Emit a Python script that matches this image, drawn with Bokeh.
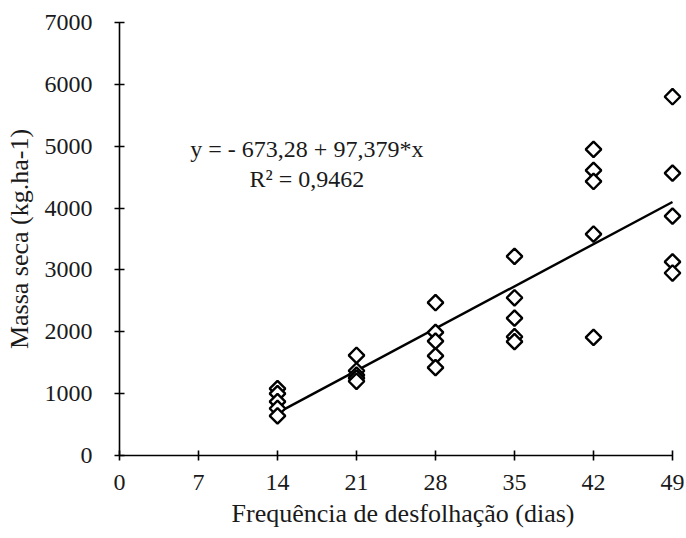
import numpy as np
from bokeh.plotting import figure
from bokeh.models import Range1d, FixedTicker, Label
from bokeh.embed import file_html
from bokeh.resources import INLINE

# ---- data ----
days = [14, 14, 14, 14, 14,
        21, 21, 21, 21, 21,
        28, 28, 28, 28, 28,
        35, 35, 35, 35, 35,
        42, 42, 42, 42, 42,
        49, 49, 49, 49, 49]
massa = [1080, 1000, 870, 760, 640,
         1620, 1370, 1300, 1250, 1200,
         2470, 1990, 1850, 1610, 1420,
         3220, 2550, 2220, 1920, 1840,
         4950, 4610, 4430, 3580, 1910,
         5800, 4565, 3870, 3130, 2950]
x_ticks = [0, 7, 14, 21, 28, 35, 42, 49]
y_ticks = [0, 1000, 2000, 3000, 4000, 5000, 6000, 7000]
intercept = -673.28
slope = 97.379
eq_text = "y = - 673,28 + 97,379*x"
r2_text = "R\u00b2 = 0,9462"
fit_x = [14, 49]

FONT = "Liberation Serif"
TXT = "#1a1a1a"

p = figure(width=686, height=538, output_backend="svg", toolbar_location=None,
           x_range=Range1d(0, 50.24), y_range=Range1d(0, 7000),
           min_border_left=119, min_border_right=0, min_border_top=22, min_border_bottom=83)
p.outline_line_color = None
p.xgrid.visible = False
p.ygrid.visible = False
p.background_fill_color = "white"
p.border_fill_color = "white"

for ax, ticks, bnds in ((p.xaxis[0], x_ticks, (0, 49)), (p.yaxis[0], y_ticks, (0, 7000))):
    ax.ticker = FixedTicker(ticks=ticks)
    ax.bounds = bnds
    ax.axis_line_color = "black"
    ax.axis_line_width = 1.6
    ax.major_tick_line_color = "black"
    ax.major_tick_line_width = 1.6
    ax.major_tick_in = 5
    ax.major_tick_out = 5
    ax.minor_tick_line_color = None
    ax.major_label_text_font = FONT
    ax.major_label_text_font_size = "24px"
    ax.major_label_text_color = TXT
    ax.axis_label_text_font = FONT
    ax.axis_label_text_font_size = "26px"
    ax.axis_label_text_font_style = "normal"
    ax.axis_label_text_color = TXT

p.xaxis.axis_label = "Frequência de desfolhação (dias)"
p.yaxis.axis_label = "Massa seca (kg.ha-1)"
p.xaxis.major_label_standoff = 14
p.yaxis.major_label_standoff = 22
p.xaxis.axis_label_standoff = 6
p.yaxis.axis_label_standoff = 8

fit_y = [intercept + slope * v for v in fit_x]
p.line(fit_x, fit_y, line_color="black", line_width=2.4)

p.scatter(days, massa, marker="square", size=11, angle=np.pi / 4,
          fill_color="white", line_color="black", line_width=2.4)

p.add_layout(Label(x=16.6, y=4950, text=eq_text, text_align="center",
                   text_baseline="middle", text_font=FONT, text_font_size="24px",
                   text_color=TXT))
p.add_layout(Label(x=16.6, y=4466, text=r2_text, text_align="center",
                   text_baseline="middle", text_font=FONT, text_font_size="24px",
                   text_color=TXT))

open("out.html", "w").write(file_html(p, INLINE))
